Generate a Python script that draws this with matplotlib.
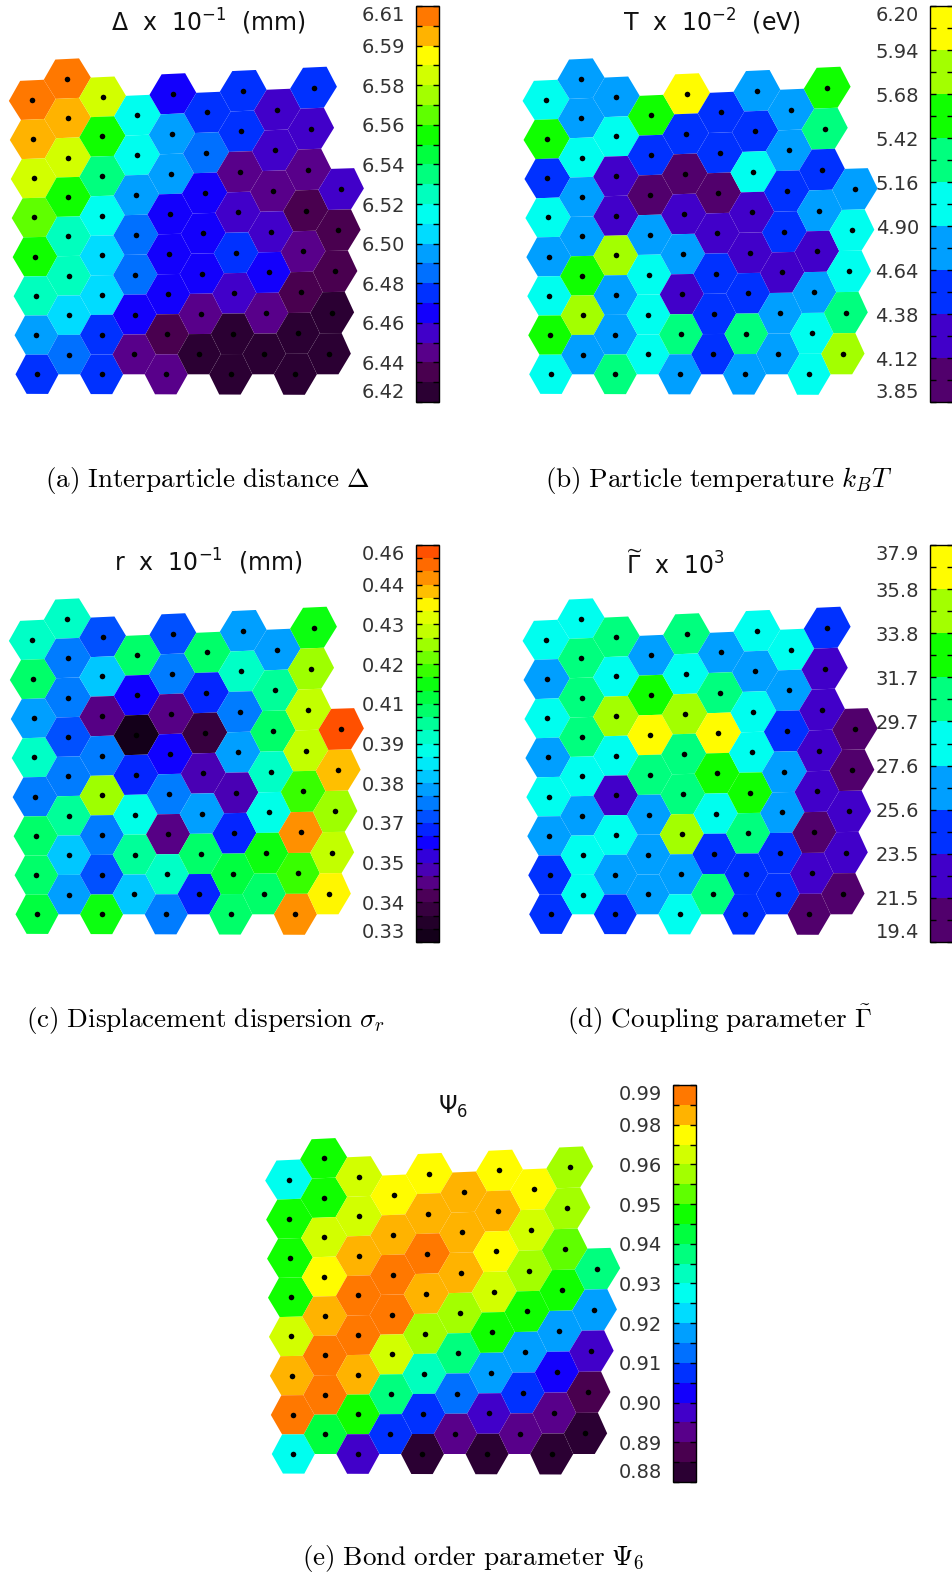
import numpy as np
import matplotlib
matplotlib.use("Agg")
import matplotlib.pyplot as plt
from matplotlib.collections import PolyCollection
from matplotlib.colors import LinearSegmentedColormap, ListedColormap, Normalize

W, H = 952, 1575

# particle lattice: particles per column and half-row index of the lowest particle
col_count = [8, 8, 8, 7, 8, 7, 8, 7, 8, 5]
col_start = [0, 1, 0, 1, 0, 1, 0, 1, 0, 1]

# cell values, one list per column, top to bottom
delta = [[6.605, 6.596, 6.577, 6.558, 6.548, 6.520, 6.491, 6.472],
         [6.605, 6.596, 6.577, 6.548, 6.520, 6.520, 6.501, 6.482],
         [6.577, 6.548, 6.529, 6.510, 6.501, 6.501, 6.472, 6.472],
         [6.510, 6.510, 6.491, 6.482, 6.482, 6.463, 6.444],
         [6.463, 6.491, 6.491, 6.463, 6.463, 6.463, 6.434, 6.444],
         [6.472, 6.482, 6.463, 6.463, 6.463, 6.444, 6.425],
         [6.472, 6.472, 6.444, 6.453, 6.472, 6.453, 6.425, 6.425],
         [6.453, 6.453, 6.444, 6.453, 6.463, 6.444, 6.425],
         [6.472, 6.453, 6.444, 6.434, 6.444, 6.434, 6.425, 6.425],
         [6.453, 6.434, 6.434, 6.425, 6.425]]

temp = [[5.03, 5.55, 4.51, 5.03, 4.77, 5.03, 5.55, 5.03],
        [4.77, 4.77, 5.03, 4.77, 4.77, 5.55, 5.81, 4.77],
        [4.77, 5.03, 4.25, 4.25, 5.81, 4.77, 4.77, 5.29],
        [5.55, 4.51, 3.98, 4.77, 5.03, 5.03, 5.03],
        [6.07, 4.51, 3.98, 4.25, 4.77, 4.25, 5.29, 4.77],
        [4.51, 4.51, 3.98, 4.25, 4.51, 4.51, 4.51],
        [4.77, 4.51, 5.03, 4.25, 4.25, 4.51, 5.29, 4.77],
        [4.77, 4.77, 4.51, 4.51, 4.25, 4.77, 4.77],
        [5.55, 5.29, 4.51, 4.77, 4.25, 4.77, 5.03, 5.03],
        [4.77, 5.03, 5.03, 5.29, 5.81]]

disp = [[0.3972, 0.4058, 0.3798, 0.3972, 0.3755, 0.4058, 0.4058, 0.4102],
        [0.3972, 0.3755, 0.3755, 0.3712, 0.3755, 0.4015, 0.3842, 0.3798],
        [0.3712, 0.3842, 0.3495, 0.3755, 0.4275, 0.3755, 0.3712, 0.4145],
        [0.4058, 0.3625, 0.3322, 0.3668, 0.3928, 0.4015, 0.3842],
        [0.3712, 0.3755, 0.3495, 0.3625, 0.3755, 0.3495, 0.3972, 0.3755],
        [0.4058, 0.3668, 0.3408, 0.3538, 0.3798, 0.4058, 0.3668],
        [0.3798, 0.3972, 0.3755, 0.3798, 0.3538, 0.3668, 0.4102, 0.4058],
        [0.3798, 0.4015, 0.4058, 0.3972, 0.3928, 0.4145, 0.4058],
        [0.4145, 0.4275, 0.4318, 0.4318, 0.4188, 0.4492, 0.4188, 0.4492],
        [0.4578, 0.4448, 0.4275, 0.4318, 0.4405]]

gamma = [[28.6, 26.6, 28.6, 26.6, 28.6, 26.6, 24.5, 24.5],
         [28.6, 30.7, 30.7, 30.7, 28.6, 26.6, 28.6, 28.6],
         [30.7, 28.6, 34.8, 28.6, 22.5, 28.6, 26.6, 24.5],
         [26.6, 32.8, 36.9, 30.7, 26.6, 26.6, 26.6],
         [30.7, 28.6, 34.8, 30.7, 30.7, 34.8, 26.6, 28.6],
         [26.6, 30.7, 36.9, 32.8, 28.6, 24.5, 30.7],
         [28.6, 26.6, 28.6, 28.6, 32.8, 30.7, 24.5, 24.5],
         [28.6, 26.6, 24.5, 26.6, 26.6, 24.5, 24.5],
         [24.5, 22.5, 22.5, 22.5, 22.5, 20.4, 22.5, 20.4],
         [20.4, 20.4, 22.5, 22.5, 20.4]]

psi6 = [[0.9323, 0.9543, 0.9543, 0.9543, 0.9708, 0.9818, 0.9873, 0.9323],
        [0.9543, 0.9543, 0.9708, 0.9763, 0.9818, 0.9873, 0.9873, 0.9488],
        [0.9708, 0.9708, 0.9818, 0.9873, 0.9873, 0.9818, 0.9543, 0.8993],
        [0.9763, 0.9818, 0.9873, 0.9873, 0.9708, 0.9433, 0.9103],
        [0.9763, 0.9818, 0.9873, 0.9818, 0.9653, 0.9378, 0.9103, 0.8828],
        [0.9818, 0.9818, 0.9818, 0.9653, 0.9433, 0.9158, 0.8938],
        [0.9763, 0.9818, 0.9763, 0.9708, 0.9543, 0.9213, 0.8993, 0.8828],
        [0.9763, 0.9708, 0.9653, 0.9543, 0.9213, 0.9103, 0.8938],
        [0.9653, 0.9653, 0.9598, 0.9543, 0.9213, 0.9048, 0.8938, 0.8828],
        [0.9433, 0.9213, 0.8993, 0.8883, 0.8828]]

delta_ticks = ["6.42", "6.44", "6.46", "6.48", "6.50", "6.52", "6.54", "6.56", "6.58", "6.59", "6.61"]
temp_ticks = ["3.85", "4.12", "4.38", "4.64", "4.90", "5.16", "5.42", "5.68", "5.94", "6.20"]
disp_ticks = ["0.33", "0.34", "0.35", "0.37", "0.38", "0.39", "0.41", "0.42", "0.43", "0.44", "0.46"]
gamma_ticks = ["19.4", "21.5", "23.5", "25.6", "27.6", "29.7", "31.7", "33.8", "35.8", "37.9"]
psi6_ticks = ["0.88", "0.89", "0.90", "0.91", "0.92", "0.93", "0.94", "0.95", "0.96", "0.98", "0.99"]

# IDL-like rainbow used for all colour bars
base = LinearSegmentedColormap.from_list("idl", [
    "#14001a", "#2b0033", "#4a0050", "#58008c", "#4000cc", "#1000ff", "#0030ff",
    "#0070ff", "#00a0ff", "#00ddff", "#00ffee", "#00ffc0", "#00ff80", "#00ff40",
    "#10ff00", "#60ff00", "#a0ff00", "#d0ff00", "#ffff00", "#ffb400", "#ff7800",
    "#ff5000"])


def palette(pos):
    return ListedColormap(base(np.asarray(pos) / 21.0))


def lattice_xy(c, k):
    # slightly perspective-distorted hexagonal lattice (pixels)
    c = np.asarray(c, float)
    k = np.asarray(k, float)
    x = -4.7 * k / 14 + c * (32.3 + 2.85 * k / 14)
    y = k * (19.6 + 0.87 * c / 8)
    return x, y


nbrs = [(0, 2), (-1, 1), (-1, -1), (0, -2), (1, -1), (1, 1)]
cc, kk = [], []
for c in range(len(col_count)):
    for i in range(col_count[c]):
        cc.append(c)
        kk.append(col_start[c] + 2 * (col_count[c] - 1 - i))
px, py = lattice_xy(cc, kk)
cells = []
for c, k, x0, y0 in zip(cc, kk, px, py):
    nx, ny = lattice_xy([c + d[0] for d in nbrs], [k + d[1] for d in nbrs])
    verts = [((x0 + nx[j] + nx[(j + 1) % 6]) / 3, (y0 + ny[j] + ny[(j + 1) % 6]) / 3)
             for j in range(6)]
    cells.append(verts)

fig = plt.figure(figsize=(W / 100, H / 100), dpi=100)


def fbox(x0, y0, x1, y1):
    return [x0 / W, 1 - y1 / H, (x1 - x0) / W, (y1 - y0) / H]


def panel(origin, vals, cmap, labels, cbox, title, tpos, caption, cpos):
    ox, oy = origin
    ax = fig.add_axes(fbox(ox - 45, oy - 335, ox + 335, oy + 45))
    ax.set_xlim(-45, 335)
    ax.set_ylim(-45, 335)
    ax.axis("off")
    lo, hi = float(labels[0]), float(labels[-1])
    v = np.concatenate([np.asarray(col, float) for col in vals])
    pc = PolyCollection(cells, array=v, cmap=cmap, norm=Normalize(lo, hi),
                        edgecolors="none", antialiased=True)
    ax.add_collection(pc)
    ax.scatter(px, py, s=16, c="k", zorder=3, linewidths=0)

    cax = fig.add_axes(fbox(*cbox))
    cb = fig.colorbar(pc, cax=cax)
    cb.set_ticks(np.linspace(lo, hi, len(labels)))
    cb.set_ticklabels(labels)
    n = cmap.N
    if n < len(labels):
        n = 2 * (len(labels) - 1)
    cax.set_yticks(np.linspace(lo, hi, n + 1), minor=True)
    cb.outline.set_linewidth(1.0)
    cax.tick_params(which="both", direction="in", left=True, right=True,
                    labelleft=True, labelright=False, length=4, width=1)
    cax.tick_params(which="major", labelsize=14, labelcolor="#333333", pad=8)
    tl = cax.get_yticklabels()
    tl[0].set_verticalalignment("bottom")
    tl[-1].set_verticalalignment("top")

    fig.text(tpos[0] / W, 1 - tpos[1] / H, title, ha="center", va="center",
             fontsize=17, family="DejaVu Sans", math_fontfamily="dejavusans",
             color="#111111")
    fig.text(cpos[0] / W, 1 - cpos[1] / H, caption, ha="center", va="center",
             fontsize=19.5, math_fontfamily="cm")


panel((37, 374.3), delta, palette(np.arange(1, 21)), delta_ticks,
      (416, 6, 439, 402), r"$\Delta$  x  10$^{-1}$  (mm)", (208, 22),
      r"$\mathrm{(a)\ Interparticle\ distance\ }\Delta$", (207, 480))
panel((550.7, 374.3), temp, palette([2.5, 4, 6, 8, 10, 12, 14, 16, 18]), temp_ticks,
      (930, 6, 953, 402), r"T  x  10$^{-2}$  (eV)", (712, 22),
      r"$\mathrm{(b)\ Particle\ temperature\ }k_BT$", (719, 480))
panel((37, 914.3), disp, palette(np.linspace(0, 21, 30)), disp_ticks,
      (416, 545, 439, 942), r"r  x  10$^{-1}$  (mm)", (208, 562),
      r"$\mathrm{(c)\ Displacement\ dispersion\ }\sigma_r$", (206, 1020))
panel((550.7, 914.3), gamma, palette([2.5, 4, 6, 8, 10, 12, 14, 16, 18]), gamma_ticks,
      (930, 545, 953, 942), r"$\widetilde{\Gamma}$  x  10$^3$", (675, 565),
      r"$\mathrm{(d)\ Coupling\ parameter\ }\tilde{\Gamma}$", (719, 1020))
panel((293.3, 1454), psi6, palette(np.arange(1, 21)), psi6_ticks,
      (673, 1085, 696, 1482), r"$\Psi_6$", (453, 1107),
      r"$\mathrm{(e)\ Bond\ order\ parameter\ }\Psi_6$", (473, 1558))

fig.savefig("out.png", dpi=100)
